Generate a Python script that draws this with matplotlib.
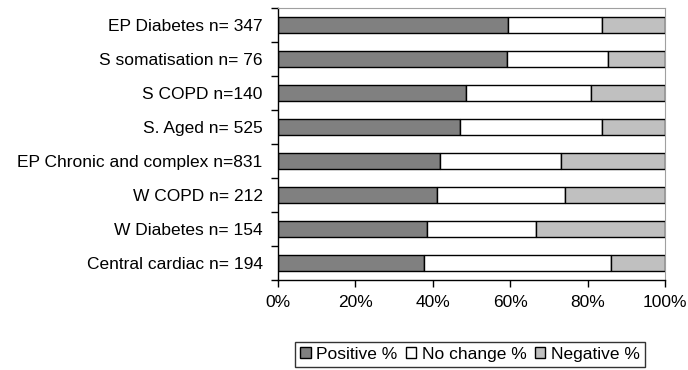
import matplotlib
matplotlib.use('Agg')
import matplotlib.pyplot as plt
import numpy as np

plt.rcParams['font.family'] = ['Liberation Sans', 'DejaVu Sans']

# Categories listed bottom to top
categories = ['Central cardiac n= 194', 'W Diabetes n= 154', 'W COPD n= 212',
              'EP Chronic and complex n=831', 'S. Aged n= 525', 'S COPD n=140',
              'S somatisation n= 76', 'EP Diabetes n= 347']
positive = [37.6, 38.6, 41.1, 41.9, 47.1, 48.6, 59.2, 59.5]
no_change = [48.5, 28.1, 33.0, 31.1, 36.5, 32.2, 26.2, 24.1]
negative = [100 - p - n for p, n in zip(positive, no_change)]

series_names = ['Positive %', 'No change %', 'Negative %']
colors = ['#808080', '#ffffff', '#c0c0c0']

fig = plt.figure(figsize=(6.88, 3.70), dpi=100)
ax = fig.add_axes([278 / 688, 1 - 280 / 370, 387 / 688, 272 / 370])

y = np.arange(len(categories))
left = np.zeros(len(categories))
for vals, name, c in zip([positive, no_change, negative], series_names, colors):
    ax.barh(y, vals, left=left, height=0.45, color=c, edgecolor='black',
            linewidth=1, label=name)
    left += np.array(vals)

ax.set_xlim(0, 100)
ax.set_ylim(-0.5, len(categories) - 0.5)
ax.set_xticks(np.arange(0, 101, 20))
ax.set_xticklabels([f'{v}%' for v in range(0, 101, 20)])
ax.set_yticks(y)
ax.set_yticklabels(categories)
ax.set_yticks(np.arange(-0.5, len(categories), 1), minor=True)
ax.tick_params(axis='y', which='major', length=0, pad=11, labelsize=12.5)
ax.tick_params(axis='y', which='minor', length=5, width=1, direction='out')
ax.tick_params(axis='x', length=5, width=1, direction='out', labelsize=12.5, pad=6)

for s in ['top', 'right']:
    ax.spines[s].set_color('#a0a0a0')
    ax.spines[s].set_linewidth(0.8)
for s in ['left', 'bottom']:
    ax.spines[s].set_color('black')
    ax.spines[s].set_linewidth(1)

leg = fig.legend(loc='lower center', bbox_to_anchor=(470 / 688, 0.008), ncol=3,
                 frameon=True, fancybox=False, edgecolor='black', fontsize=12.5,
                 handlelength=0.6, handleheight=0.6, handletextpad=0.3,
                 columnspacing=0.5, borderpad=0.3, borderaxespad=0)
leg.get_frame().set_linewidth(1)

fig.savefig('out.png', dpi=100)
